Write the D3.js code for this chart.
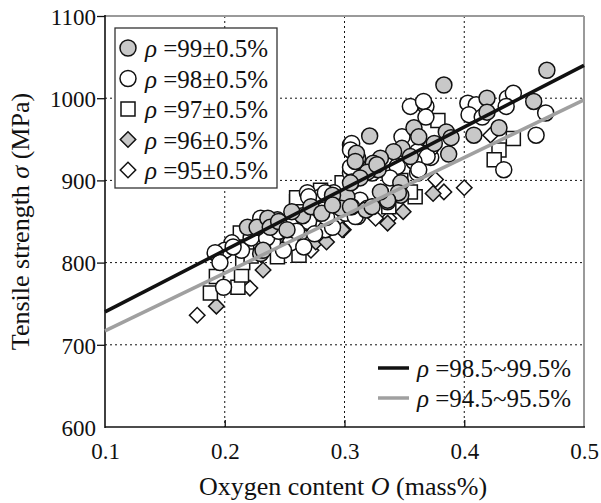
<!DOCTYPE html>
<html><head><meta charset="utf-8">
<script src="https://cdn.jsdelivr.net/npm/d3@7"></script>
<style>body{margin:0;background:#fff}svg{display:block}</style>
</head><body><svg id="c" width="601" height="503"></svg>
<script>
const xTicks=[0.1,0.2,0.3,0.4,0.5];
const yTicks=[600,700,800,900,1000,1100];
const xTitle=["Oxygen content ","O"," (mass%)"];
const yTitle=["Tensile strength ","σ"," (MPa)"];
const seriesLabels=["=99±0.5%","=98±0.5%","=97±0.5%","=96±0.5%","=95±0.5%"];
const fitLabels=["=98.5~99.5%","=94.5~95.5%"];
const fitHigh=[[0.1,740],[0.5,1040]];
const fitLow=[[0.1,717],[0.5,998]];
const rho99=[[0.469,1034],[0.383,1016],[0.419,1000],[0.419,983],[0.458,996],[0.385,959],[0.389,952],[0.375,945],[0.387,932],[0.408,955],[0.429,964],[0.358,964],[0.362,953],[0.321,954],[0.348,939],[0.341,935],[0.311,927],[0.330,927],[0.324,921],[0.328,913],[0.319,910],[0.355,929],[0.306,898],[0.313,903],[0.327,919],[0.347,897],[0.302,880],[0.306,868],[0.336,874],[0.347,882],[0.310,933],[0.309,923],[0.305,897],[0.290,882],[0.297,866],[0.305,868],[0.318,864],[0.323,868],[0.244,852],[0.345,885],[0.336,876],[0.330,886],[0.219,843],[0.227,843],[0.236,854],[0.230,811],[0.238,843],[0.245,850],[0.252,840],[0.265,857],[0.272,868],[0.256,862],[0.281,860],[0.290,870],[0.232,815]];
const rho98=[[0.403,994],[0.410,992],[0.404,980],[0.415,977],[0.436,1000],[0.441,1006],[0.435,990],[0.468,982],[0.460,955],[0.372,928],[0.433,913],[0.355,990],[0.368,990],[0.366,996],[0.368,977],[0.348,953],[0.305,943],[0.372,940],[0.366,933],[0.361,919],[0.361,909],[0.361,935],[0.369,929],[0.305,909],[0.323,909],[0.344,917],[0.358,923],[0.362,913],[0.338,903],[0.291,885],[0.313,876],[0.319,866],[0.306,945],[0.305,937],[0.305,916],[0.269,885],[0.280,880],[0.270,880],[0.284,885],[0.283,864],[0.301,860],[0.311,856],[0.246,843],[0.242,834],[0.284,840],[0.290,843],[0.255,824],[0.266,819],[0.249,815],[0.309,856],[0.199,770],[0.196,807],[0.206,824],[0.214,815],[0.200,815],[0.230,854],[0.226,836],[0.207,819],[0.192,812],[0.196,800],[0.255,845],[0.270,850],[0.285,855],[0.260,838],[0.275,835],[0.240,825],[0.222,830],[0.235,830],[0.245,838]];
const rho97=[[0.378,973],[0.441,951],[0.429,937],[0.425,925],[0.347,900],[0.260,874],[0.280,888],[0.266,848],[0.278,842],[0.262,809],[0.244,807],[0.359,880],[0.355,886],[0.337,868],[0.298,897],[0.260,879],[0.188,763],[0.211,770],[0.193,783],[0.214,785],[0.213,836],[0.270,848],[0.230,823],[0.215,800],[0.222,808],[0.255,830]];
const rho96=[[0.193,747],[0.232,791],[0.298,840],[0.276,825],[0.374,884],[0.349,862],[0.336,848],[0.250,830],[0.285,825],[0.265,835]];
const rho95=[[0.177,736],[0.221,769],[0.272,815],[0.376,901],[0.383,886],[0.400,891],[0.337,854],[0.326,854],[0.299,840],[0.422,955]];

const FONT="Liberation Serif";
const svg=d3.select("#c").style("font-family",FONT);
const L=105,R=584,T=16,B=427;
const x=d3.scaleLinear().domain([0.1,0.5]).range([L,R]);
const y=d3.scaleLinear().domain([600,1100]).range([B,T]);
const GRAY="#c8c8c8";
function txt(sel,size){return sel.append("text").style("font-family",FONT).style("font-size",size+"px").attr("fill","#111");}

// grid
const g=svg.append("g");
g.selectAll(".gx").data(xTicks.slice(1,-1)).join("line").attr("x1",d=>x(d)).attr("x2",d=>x(d)).attr("y1",T).attr("y2",B)
 .attr("stroke","#111").attr("stroke-width",1).attr("stroke-dasharray","2,3");
g.selectAll(".gy").data(yTicks.slice(1,-1)).join("line").attr("y1",d=>y(d)).attr("y2",d=>y(d)).attr("x1",L).attr("x2",R)
 .attr("stroke","#111").attr("stroke-width",1).attr("stroke-dasharray","2,3");

// axes
const xa=svg.append("g").attr("transform",`translate(0,${B})`).call(d3.axisBottom(x).tickValues(xTicks).tickSizeInner(-7).tickSizeOuter(0).tickFormat(d3.format(".1f")));
const ya=svg.append("g").attr("transform",`translate(${L},0)`).call(d3.axisLeft(y).tickValues(yTicks).tickSizeInner(8).tickSizeOuter(0).tickFormat(d=>d));
[xa,ya].forEach(a=>{a.attr("font-family",FONT).attr("font-size",23);a.select(".domain").remove();a.selectAll("line").attr("stroke","#111").attr("stroke-width",1.3);
 a.selectAll("text").style("font-family",FONT).style("font-size","23px").attr("fill","#111");});
xa.selectAll("text").attr("y",16).attr("dy","0.71em");
ya.selectAll("text").attr("x",-9).attr("dy","0.36em");
xa.selectAll(".tick").filter(d=>d===0.1||d===0.5).select("line").remove();
ya.selectAll(".tick").filter(d=>d===600).select("line").remove();

// frame
svg.append("line").attr("x1",L).attr("x2",R).attr("y1",T).attr("y2",T).attr("stroke","#9a9a9a").attr("stroke-width",2);
svg.append("line").attr("x1",R).attr("x2",R).attr("y1",T).attr("y2",B).attr("stroke","#9a9a9a").attr("stroke-width",2);
svg.append("line").attr("x1",L).attr("x2",L).attr("y1",T-1).attr("y2",B+1).attr("stroke","#111").attr("stroke-width",1.6);
svg.append("line").attr("x1",L).attr("x2",R+1).attr("y1",B).attr("y2",B).attr("stroke","#111").attr("stroke-width",1.6);

// markers
const sym={circle:d3.symbol(d3.symbolCircle,201),square:d3.symbol(d3.symbolSquare,196),diamond:d3.symbol(d3.symbolSquare,120)};
function drawMarker(sel,type,fill){
  const p=sel.append("path").attr("d",sym[type]()).attr("fill",fill).attr("stroke","#111").attr("stroke-width",1.5);
  if(type==="diamond") p.attr("transform","rotate(45)");
  return p;
}
const series=[
 {data:rho95,type:"diamond",fill:"#fff"},
 {data:rho96,type:"diamond",fill:GRAY},
 {data:rho97,type:"square",fill:"#fff"},
 {data:rho98,type:"circle",fill:"#fff"},
 {data:rho99,type:"circle",fill:GRAY}];
series.forEach(s=>{
  svg.append("g").selectAll("g").data(s.data).join("g").attr("transform",d=>`translate(${x(d[0])},${y(d[1])})`)
   .each(function(){drawMarker(d3.select(this),s.type,s.fill);});
});

// fit lines
const line=d3.line().x(d=>x(d[0])).y(d=>y(d[1]));
svg.append("path").attr("d",line(fitLow)).attr("stroke","#a0a0a0").attr("stroke-width",3.5).attr("fill","none");
svg.append("path").attr("d",line(fitHigh)).attr("stroke","#111").attr("stroke-width",3.5).attr("fill","none");

// legend 1
const lg=svg.append("g");
lg.append("rect").attr("x",115).attr("y",28).attr("width",162).attr("height",160).attr("fill","#fff").attr("stroke","#333").attr("stroke-width",1.3);
const legItems=[{type:"circle",fill:GRAY},{type:"circle",fill:"#fff"},{type:"square",fill:"#fff"},{type:"diamond",fill:GRAY},{type:"diamond",fill:"#fff"}];
legItems.forEach((it,i)=>{
  const cy=48+i*30.5;
  const mg=lg.append("g").attr("transform",`translate(128,${cy})`);
  drawMarker(mg,it.type,it.fill);
  const t=txt(lg,25).attr("x",145).attr("y",cy).attr("dy","0.36em");
  t.append("tspan").style("font-style","italic").text("ρ");
  t.append("tspan").text(" "+seriesLabels[i]);
});

// legend 2
[["#111",fitLabels[0]],["#a0a0a0",fitLabels[1]]].forEach((d,i)=>{
  const cy=368+i*30;
  svg.append("line").attr("x1",378).attr("x2",409).attr("y1",cy).attr("y2",cy).attr("stroke",d[0]).attr("stroke-width",3.5);
  const t=txt(svg,25).attr("x",417).attr("y",cy).attr("dy","0.36em");
  t.append("tspan").style("font-style","italic").text("ρ");
  t.append("tspan").text(" "+d[1]);
});

// titles
const xt=txt(svg,26).attr("x",343).attr("y",495).attr("text-anchor","middle");
xt.append("tspan").text(xTitle[0]);xt.append("tspan").style("font-style","italic").text(xTitle[1]);xt.append("tspan").text(xTitle[2]);
const yt=txt(svg,26).attr("transform",`translate(29,${(T+B)/2}) rotate(-90)`).attr("text-anchor","middle");
yt.append("tspan").text(yTitle[0]);yt.append("tspan").style("font-style","italic").text(yTitle[1]);yt.append("tspan").text(yTitle[2]);
</script></body></html>
